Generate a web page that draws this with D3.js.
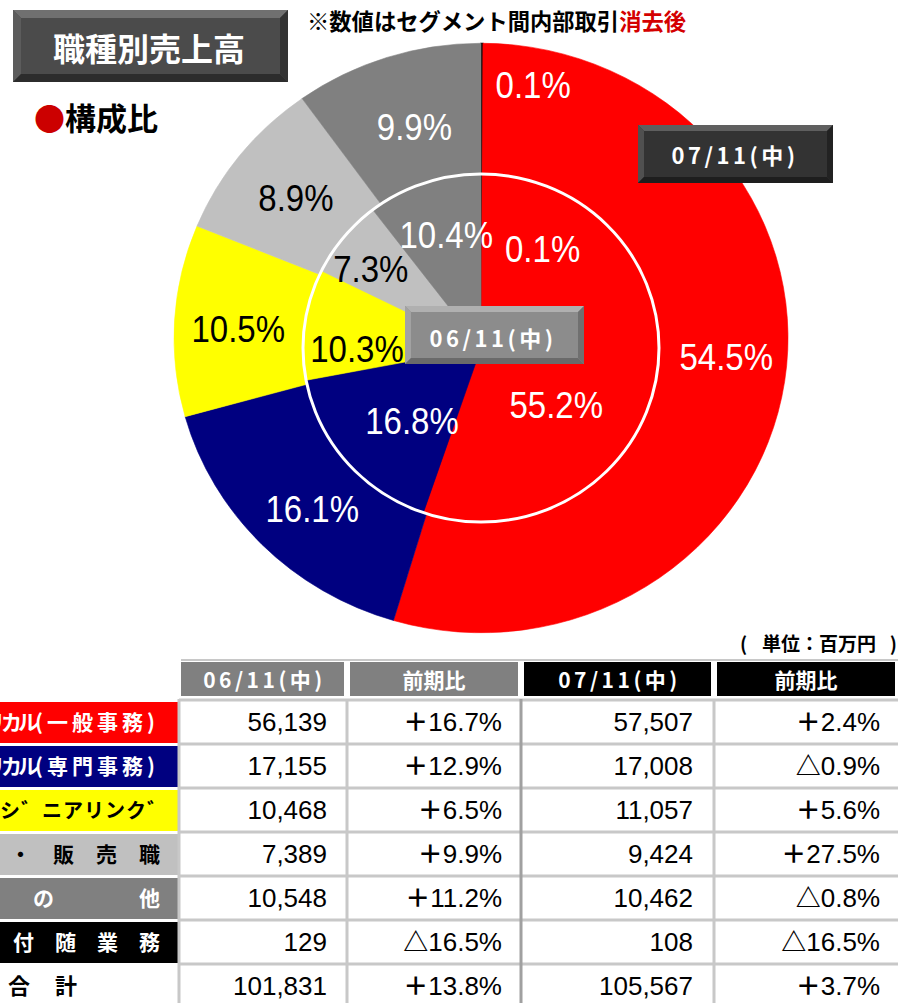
<!DOCTYPE html>
<html>
<head>
<meta charset="utf-8">
<script src="https://cdn.jsdelivr.net/npm/d3@7"></script>
<style>
  body { margin: 0; background: #fff; }
  svg { display: block; font-family: "Liberation Sans", Arial, "Noto Sans CJK JP", sans-serif; }
  .jp { font-family: "Noto Sans CJK JP", sans-serif; font-weight: bold; }
</style>
</head>
<body>
<script>
// categories in table order
const categories = ["クラリカル(一般事務)", "クラリカル(専門事務)", "エンシ゛ニアリンク゛", "営業・販売職", "その他", "付随業務"];
const totalLabel = "合計";

// composition ratio (%) shown on the pie
const share06 = [55.2, 16.8, 10.3, 7.3, 10.4, 0.1];
const share07 = [54.5, 16.1, 10.5, 8.9, 9.9, 0.1];

// table values (million yen) and YoY change (%)
const sales06 = [56139, 17155, 10468, 7389, 10548, 129];
const growth06 = [16.7, 12.9, 6.5, 9.9, 11.2, -16.5];
const sales07 = [57507, 17008, 11057, 9424, 10462, 108];
const growth07 = [2.4, -0.9, 5.6, 27.5, -0.8, -16.5];
const total06 = 101831, totalGrowth06 = 13.8;
const total07 = 105567, totalGrowth07 = 3.7;

const headers = ["06/11(中)", "前期比", "07/11(中)", "前期比"];

// pie starts at 12 o'clock with 付随業務, then clockwise
const pieOrder = [5, 0, 1, 2, 3, 4];

// colours per category
const fills = ["#ff0000", "#000080", "#ffff00", "#c0c0c0", "#808080", "#000000"];
const inks = ["#fff", "#fff", "#000", "#000", "#fff", "#fff"];

let svg = d3.select("body").append("svg")
  .attr("width", 898)
  .attr("height", 1003);

// bevelled button box
function bevel(x, y, w, h, b, c) {
  let g = svg.append("g");
  let poly = pts => g.append("polygon").attr("points", pts.map(p => p.join(",")).join(" "));
  g.append("rect").attr("x", x).attr("y", y).attr("width", w).attr("height", h).attr("fill", c.face);
  poly([[x, y], [x + w, y], [x + w - b, y + b], [x + b, y + b]]).attr("fill", c.top);
  poly([[x, y], [x + b, y + b], [x + b, y + h - b], [x, y + h]]).attr("fill", c.left);
  poly([[x, y + h], [x + b, y + h - b], [x + w - b, y + h - b], [x + w, y + h]]).attr("fill", c.bottom);
  poly([[x + w, y], [x + w, y + h], [x + w - b, y + h - b], [x + w - b, y + b]]).attr("fill", c.right);
  return g;
}

// ---- pie rings ----
let pie = d3.pie().sort(null);

function drawPie(share, cx, cy, r, ratio) {
  let arcs = pie.value(i => share[i])(pieOrder);
  let arc = d3.arc().innerRadius(0).outerRadius(r);
  let g = svg.append("g").attr("transform", `translate(${cx},${cy}) scale(1,${ratio})`);
  g.selectAll("path").data(arcs).join("path")
    .attr("d", arc)
    .attr("fill", d => fills[d.data])
    .attr("stroke", d => fills[d.data])
    .attr("stroke-width", d => d.data === 5 ? 1.2 : 0.6);
  return arcs;
}

function drawLabels(arcs, share, cx, cy, r, ratio, angNudge, radNudge) {
  arcs.forEach((d, k) => {
    let a = (d.startAngle + d.endAngle) / 2 + angNudge[k] * Math.PI / 180;
    let rr = r + radNudge[k];
    let x = cx + rr * Math.sin(a);
    let y = cy - rr * Math.cos(a) * ratio;
    svg.append("text")
      .attr("transform", `translate(${x},${y}) scale(1,1.14)`)
      .attr("text-anchor", "middle")
      .attr("dy", "0.36em")
      .attr("font-size", 33)
      .attr("fill", inks[d.data])
      .text(share[d.data].toFixed(1) + "%");
  });
}

let outerArcs = drawPie(share07, 481, 338, 307, 0.96);
let innerArcs = drawPie(share06, 481, 348, 178, 0.977);

svg.append("ellipse")
  .attr("cx", 481).attr("cy", 348).attr("rx", 178).attr("ry", 174)
  .attr("fill", "none").attr("stroke", "#fff").attr("stroke-width", 3);

drawLabels(outerArcs, share07, 481, 338, 240, 0.96, [11, -4, -2, -1, 0, 1], [29, 6, 5, 3, -4, -10]);
drawLabels(innerArcs, share06, 481, 348, 118, 0.977, [31, 28, -6, -8, -3, 2], [1, -23, -17, 6, 19, 3]);

// ---- title, notes, period boxes ----
bevel(13, 10, 275, 72, 8, {face: "#4b4b4b", top: "#707070", left: "#5c5c5c", bottom: "#2c2c2c", right: "#333"});
svg.append("text").attr("class", "jp").attr("x", 149).attr("y", 61)
  .attr("text-anchor", "middle").attr("font-size", 32).attr("fill", "#fff").text("職種別売上高");

let sub = svg.append("text").attr("class", "jp").attr("x", 34).attr("y", 130).attr("font-size", 31);
sub.append("tspan").attr("fill", "#cc0000").text("●");
sub.append("tspan").attr("fill", "#000").text("構成比");

let note = svg.append("text").attr("class", "jp").attr("x", 307).attr("y", 30).attr("font-size", 22.3);
note.append("tspan").attr("fill", "#000").text("※数値はセグメント間内部取引");
note.append("tspan").attr("fill", "#d40000").text("消去後");

bevel(638, 125, 195, 58, 6, {face: "#333", top: "#5f5f5f", left: "#505050", bottom: "#1e1e1e", right: "#222"});
svg.append("text").attr("class", "jp").attr("x", 735).attr("y", 164)
  .attr("text-anchor", "middle").attr("font-size", 22).attr("letter-spacing", 3.5).attr("fill", "#fff").text("07/11(中)");

bevel(405, 306, 179, 58, 6, {face: "#8c8c8c", top: "#b0b0b0", left: "#a2a2a2", bottom: "#6a6a6a", right: "#707070"});
svg.append("text").attr("class", "jp").attr("x", 493).attr("y", 347)
  .attr("text-anchor", "middle").attr("font-size", 22).attr("letter-spacing", 3.5).attr("fill", "#fff").text("06/11(中)");

// unit note
let unit = svg.append("g").attr("class", "jp").attr("font-size", 19).attr("fill", "#000");
unit.append("text").attr("x", 740).attr("y", 651).text("(");
unit.append("text").attr("x", 762).attr("y", 651).text("単位：百万円");
unit.append("text").attr("x", 897).attr("y", 651).attr("text-anchor", "end").text(")");

// ---- table ----
let rows = categories.map((c, i) => ({
  label: c, fill: fills[i], ink: inks[i],
  v06: sales06[i], g06: growth06[i], v07: sales07[i], g07: growth07[i]
}));
rows.push({label: totalLabel, fill: "#fff", ink: "#000", v06: total06, g06: totalGrowth06, v07: total07, g07: totalGrowth07});

// label layout: font size, letter spacing and right edge per row
let labelSize = [21, 21, 20, 21, 21, 21, 22];
let labelSpacing = [4, 4, 1, 22, 85, 21, 25];
let labelEnd = [155, 155, 168, 160, 160, 160, 0];

let rowY = d3.scaleBand().domain(d3.range(rows.length)).range([700, 1008]).padding(0);
let colEdges = [179, 347, 521, 714, 898];
let headFill = ["#808080", "#808080", "#000", "#000"];
let valueRight = [327, 502, 693, 880];

// header
svg.append("rect").attr("x", 181).attr("y", 659).attr("width", 717).attr("height", 2).attr("fill", "#c8c8c8");
headers.forEach((h, j) => {
  let x0 = colEdges[j] + (j === 0 ? 2 : 3), x1 = colEdges[j + 1] - 3;
  svg.append("rect").attr("x", x0).attr("y", 662).attr("width", x1 - x0).attr("height", 34).attr("fill", headFill[j]);
  svg.append("text").attr("class", "jp").attr("x", (x0 + x1) / 2 + (j % 2 === 0 ? 2 : 0)).attr("y", 688)
    .attr("text-anchor", "middle").attr("font-size", 21).attr("letter-spacing", j % 2 === 0 ? 3.5 : 0)
    .attr("fill", "#fff").text(h);
});

let fmt = d3.format(",");

rows.forEach((r, i) => {
  let y = rowY(i), h = rowY.bandwidth();
  let base = y + h / 2 + 8;
  // label cell
  svg.append("rect").attr("x", 0).attr("y", y + 2).attr("width", 178).attr("height", h - 3).attr("fill", r.fill);
  let ls = labelSpacing[i], fs = labelSize[i];
  let m = r.label.match(/^(.*?)(\(.*\))$/);

  if (r.label.includes("゛")) {
    // set glyph by glyph so the voiced mark stays a separate glyph
    let chars = Array.from(r.label);
    let g = svg.append("text").attr("class", "jp").attr("y", base).attr("font-size", fs).attr("fill", r.ink);
    chars.forEach((ch, k) => {
      g.append("tspan").attr("x", labelEnd[i] - (chars.length - k) * (fs + ls)).text(ch);
    });
  } else {
    let t = svg.append("text").attr("class", "jp").attr("y", base).attr("font-size", fs).attr("fill", r.ink);
    if (m) {
      // katakana part is set tighter than the kanji part
      t.append("tspan").attr("letter-spacing", -4).text(m[1]);
      t.append("tspan").attr("letter-spacing", ls).text(m[2]);
    } else {
      t.attr("letter-spacing", ls).text(r.label);
    }
    if (i === rows.length - 1) t.attr("x", 8);
    else t.attr("x", labelEnd[i] + ls).attr("text-anchor", "end");
  }

  // values
  let cells = [[null, fmt(r.v06)], [r.g06, null], [null, fmt(r.v07)], [r.g07, null]];
  cells.forEach((c, j) => {
    let tx = svg.append("text")
      .attr("x", valueRight[j]).attr("y", y + h / 2 + 9)
      .attr("text-anchor", "end").attr("font-size", 26).attr("fill", "#000");
    if (c[1] !== null) tx.text(c[1]);
    else {
      tx.append("tspan").attr("class", "jp").attr("font-size", 25).text(c[0] < 0 ? "△" : "＋");
      tx.append("tspan").text(Math.abs(c[0]).toFixed(1) + "%");
    }
  });
});

// grid lines
rows.forEach((r, i) => {
  svg.append("line").attr("x1", 179).attr("x2", 898).attr("y1", rowY(i)).attr("y2", rowY(i))
    .attr("stroke", "#c8c8c8").attr("stroke-width", 3);
});
colEdges.slice(0, 4).forEach((x, j) => {
  svg.append("line").attr("x1", x).attr("x2", x).attr("y1", 699).attr("y2", 1003)
    .attr("stroke", j === 2 ? "#a0a0a0" : "#c8c8c8").attr("stroke-width", 3);
});
</script>
</body>
</html>
